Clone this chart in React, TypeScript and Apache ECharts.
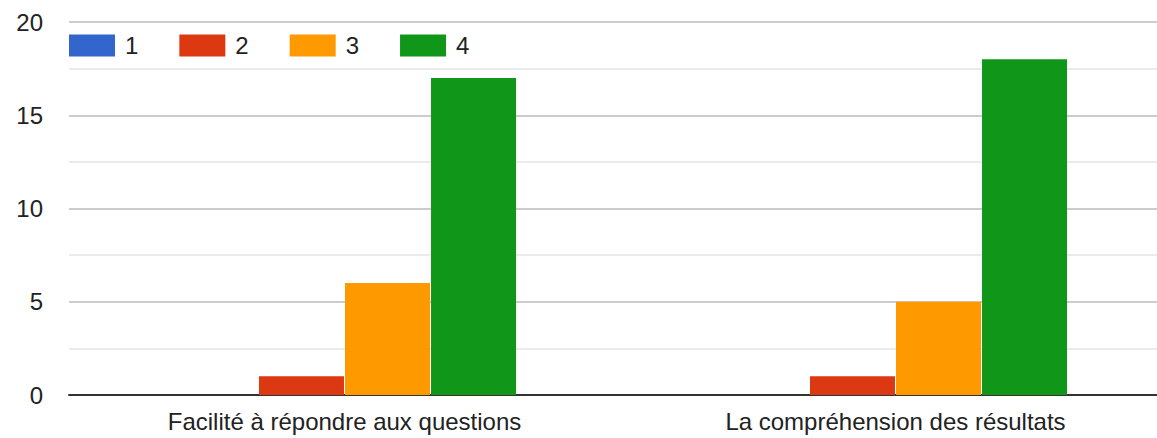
import React, { useEffect, useRef } from "react";
import * as echarts from "echarts";

const categories = ["Facilité à répondre aux questions", "La compréhension des résultats"];
const seriesNames = ["1", "2", "3", "4"];
const values1 = [0, 0];
const values2 = [1, 1];
const values3 = [6, 5];
const values4 = [17, 18];
const colors = ["#3366cc", "#dc3912", "#ff9900", "#109618"];
const yTicks = { min: 0, max: 20, interval: 5 };

export default function App() {
  const ref = useRef<HTMLDivElement>(null);
  useEffect(() => {
    if (!ref.current) return;
    const chart = echarts.init(ref.current, null, { renderer: "svg" });
    const all = [values1, values2, values3, values4];
    const font = "Arial, 'Liberation Sans', sans-serif";
    chart.setOption({
      animation: false,
      textStyle: { fontFamily: font },
      legend: {
        left: 69,
        top: 33.5,
        padding: 0,
        itemWidth: 46,
        itemHeight: 22,
        itemGap: 41,
        icon: "rect",
        textStyle: { fontSize: 24, color: "#222", fontFamily: font, padding: [0, 0, 0, 5] },
        data: seriesNames,
      },
      grid: { left: 69, top: 22, width: 1102, height: 373 },
      xAxis: {
        type: "category",
        data: categories,
        axisLine: { show: true, lineStyle: { color: "#333", width: 2 } },
        axisTick: { show: false },
        axisLabel: { fontSize: 24, color: "#222", margin: 14, fontFamily: font },
        splitLine: { show: false },
      },
      yAxis: {
        type: "value",
        min: yTicks.min,
        max: yTicks.max,
        interval: yTicks.interval,
        axisLine: { show: false },
        axisTick: { show: false },
        axisLabel: { fontSize: 24, color: "#222", margin: 26, fontFamily: font },
        splitLine: { show: true, lineStyle: { color: "#cccccc", width: 2 } },
        minorTick: { show: false, splitNumber: 2 },
        minorSplitLine: { show: true, lineStyle: { color: "#ebebeb", width: 2 } },
      },
      series: all.map((d, i) => ({
        name: seriesNames[i],
        type: "bar",
        data: d,
        barWidth: 85,
        barGap: "1.2%",
        itemStyle: { color: colors[i] },
        z: 3,
      })),
    });
    return () => chart.dispose();
  }, []);
  return (
    <div style={{ position: "absolute", left: 0, top: 0, width: 1157, height: 438, overflow: "hidden" }}>
      <div ref={ref} style={{ width: 1180, height: 438 }} />
    </div>
  );
}
